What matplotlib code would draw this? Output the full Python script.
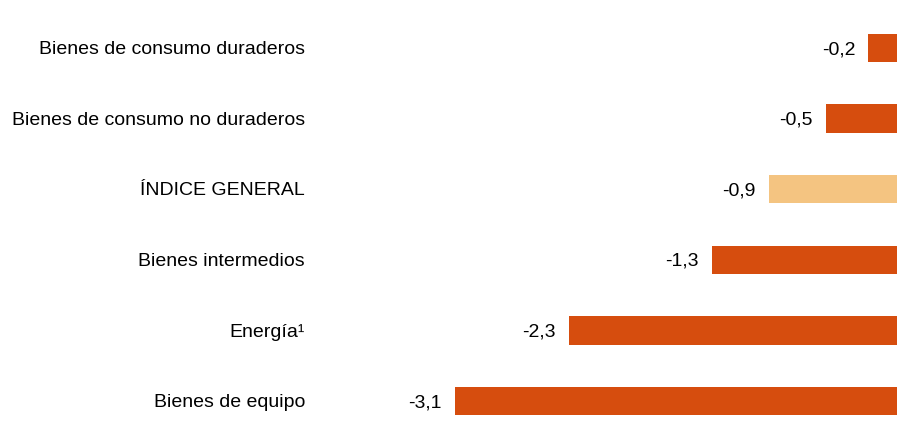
import matplotlib.pyplot as plt
import matplotlib.transforms as mtransforms

plt.rcParams["font.family"] = ["Liberation Sans", "DejaVu Sans"]

categories = ["Bienes de consumo duraderos", "Bienes de consumo no duraderos",
              "ÍNDICE GENERAL", "Bienes intermedios", "Energía¹", "Bienes de equipo"]
values = [-0.2, -0.5, -0.9, -1.3, -2.3, -3.1]
highlight = "ÍNDICE GENERAL"

ORANGE = "#D64D0E"
LIGHT = "#F4C481"

W, H = 897, 430
fig = plt.figure(figsize=(W / 100, H / 100), dpi=100)
ax_left = 340 / W
ax = fig.add_axes([ax_left, 0, 1 - ax_left, 1])

colors = [LIGHT if c == highlight else ORANGE for c in categories]
ypos = list(range(len(categories)))
ax.barh(ypos, values, height=0.4, color=colors)

px_per_unit = 142.6
ax.set_xlim(-(W * (1 - ax_left)) / px_per_unit, 0)
ax.set_ylim(5 + 29 / 70.6, -48 / 70.6)
ax.axis("off")

# category labels: right edge fixed in figure coords, rows in data coords
lbl_tr = mtransforms.blended_transform_factory(fig.transFigure, ax.transData)
for y, cat, v in zip(ypos, categories, values):
    ax.annotate(cat, (305 / W, y), xycoords=lbl_tr, xytext=(0, -1.2),
                textcoords="offset points", ha="right", va="center",
                fontsize=14, color="black")
    ax.annotate(f"{v:.1f}".replace(".", ","), (v, y), xytext=(-9.5, -1.2),
                textcoords="offset points", ha="right", va="center",
                fontsize=14, color="black")

fig.savefig("out.png", dpi=100)
